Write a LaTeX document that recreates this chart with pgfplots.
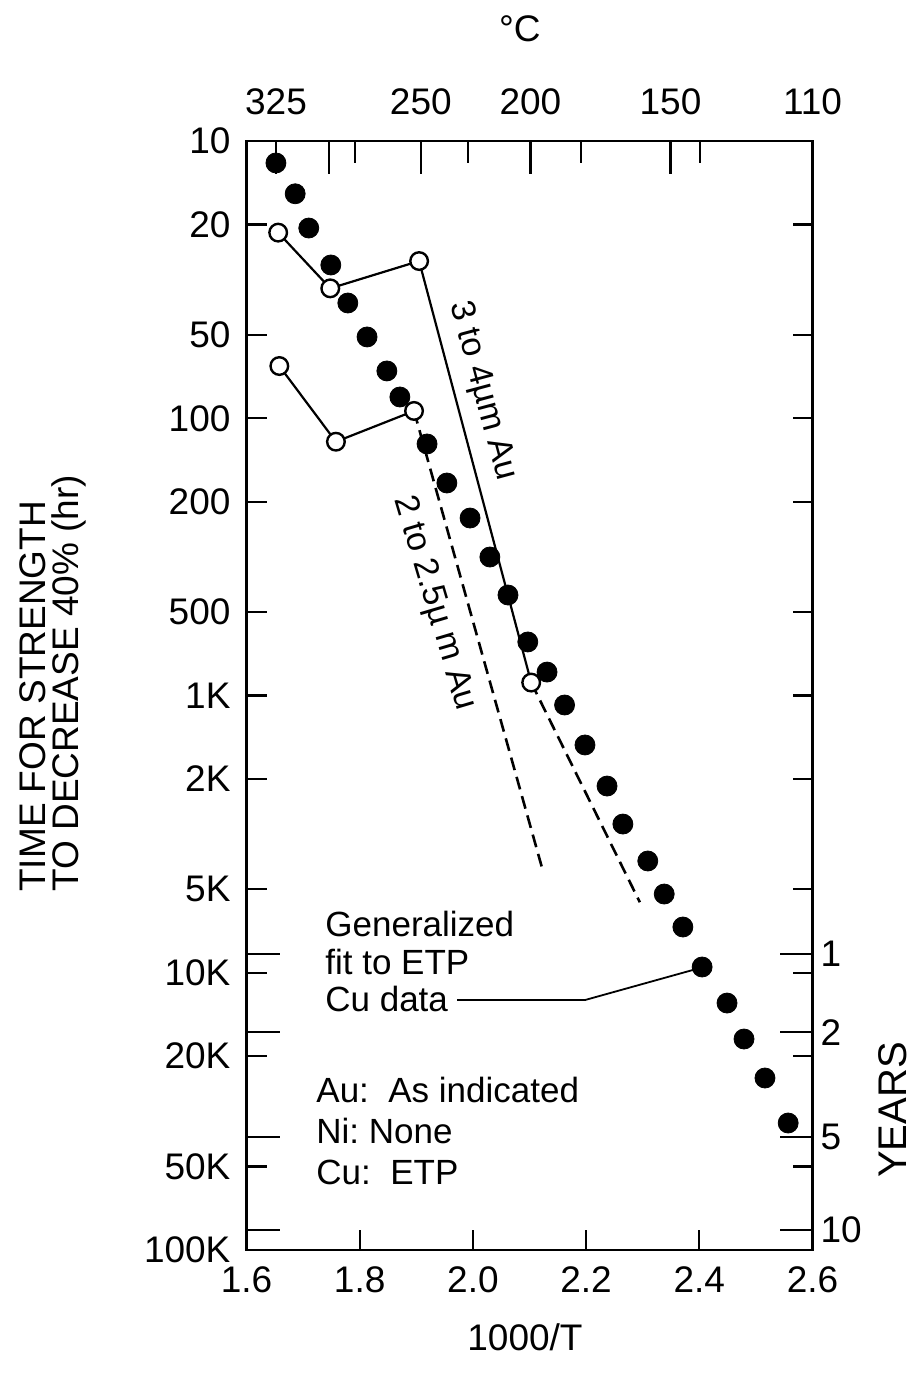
\documentclass[border=0pt]{standalone}
\usepackage{fontspec}
\setmainfont{Liberation Sans}
\usepackage{pgfplots}
\usepackage{pgfplotstable}
\pgfplotsset{compat=1.18}

% Filled circles: generalized fit to ETP Cu data (1000/T, hours)
\pgfplotstableread{
x y
1.652 12.0
1.686 15.5
1.710 20.6
1.749 28.0
1.779 38.4
1.813 50.9
1.848 67.5
1.871 83.8
1.919 123.8
1.954 171.2
1.995 229
2.030 316.6
2.062 434
2.097 641
2.131 823
2.162 1082
2.198 1508
2.237 2121
2.265 2908
2.309 3953
2.338 5200
2.371 6839
2.405 9533
2.449 12860
2.479 17335
2.516 23966
2.557 34830
}\cudata

% Open circles: 3 to 4 um Au
\pgfplotstableread{
x y
1.656 21.4
1.748 34.0
1.905 27.1
2.103 898
}\authick

% Open circles: 2 to 2.5 um Au
\pgfplotstableread{
x y
1.658 64.8
1.758 121.5
1.896 94.1
}\authin

\begin{document}
\begin{tikzpicture}[x=1pt,y=1pt]
\path[use as bounding box] (0,0) rectangle (460,686.5);

% ---------- main axis: 1000/T (bottom) and hours (left) ----------
\begin{axis}[
  scale only axis, width=283pt, height=554.5pt,
  at={(264.75pt,338.75pt)}, anchor=center,
  xmin=1.6, xmax=2.6,
  ymode=log, ymin=10, ymax=100000, y dir=reverse,
  clip=false,
  axis line style={line width=1.3pt},
  tick align=inside,
  major tick length=10pt,
  every tick/.style={black, line width=1.1pt},
  xminorticks=false, yminorticks=false,
  xtick={1.6,1.8,2.0,2.2,2.4,2.6},
  xticklabels={1.6,1.8,2.0,2.2,2.4,2.6},
  xtick pos=lower, xticklabel pos=lower,
  ytick={10,20,50,100,200,500,1000,2000,5000,10000,20000,50000,100000},
  yticklabels={10,20,50,100,200,500,1K,2K,5K,10K,20K,50K,100K},
  ytick pos=both, yticklabel pos=lower,
  /pgf/number format/assume math mode=true,
  tick label style={font=\fontsize{18.5}{20}\selectfont},
  yticklabel style={xshift=-4.5pt},
  xticklabel style={yshift=-5pt},
  xlabel={1000/T},
  xlabel style={at={(axis description cs:0.492,-0.079)}, anchor=center,
    font=\fontsize{18.5}{20}\selectfont},
  ylabel={TIME FOR STRENGTH\\TO DECREASE 40\% (hr)},
  ylabel style={at={(axis description cs:-0.342,0.511)}, anchor=center,
    align=left, font=\fontsize{18.5}{16.5}\selectfont},
]
% leader line for the annotation
\addplot[line width=0.9pt] coordinates {(1.972,12543) (2.198,12543) (2.401,9614)};
% 3 to 4 um Au
\addplot[line width=1.1pt] table {\authick};
\addplot[line width=1.3pt, dash pattern=on 6.5pt off 3.5pt] coordinates {(2.103,898) (2.295,5570)};
% 2 to 2.5 um Au
\addplot[line width=1.1pt] table {\authin};
\addplot[line width=1.3pt, dash pattern=on 6.5pt off 3.5pt] coordinates {(1.896,94.1) (2.1216,4145)};
% filled ETP Cu points
\addplot[only marks, mark=*, mark size=5pt, black] table {\cudata};
% open circles
\addplot[only marks, mark=*, mark size=4.4pt,
  mark options={fill=white, draw=black, line width=1.2pt}] table {\authick};
\addplot[only marks, mark=*, mark size=4.4pt,
  mark options={fill=white, draw=black, line width=1.2pt}] table {\authin};

% annotations
\node[rotate=-75, inner sep=0, font=\fontsize{17}{17}\selectfont]
  at (axis cs:2.017,79.7) {3 to 4µm Au};
\node[rotate=-73.5, inner sep=0, font=\fontsize{17}{17}\selectfont]
  at (axis cs:1.9316,465) {2 to 2.5µ m Au};
\node[anchor=north west, inner sep=0, align=left,
  font=\fontsize{17.5}{18.75}\selectfont]
  at (axis cs:1.7387,5988) {Generalized\\fit to ETP\\Cu data};
\node[anchor=north west, inner sep=0, align=left,
  font=\fontsize{17.5}{20.5}\selectfont]
  at (axis cs:1.7228,23700) {Au:~~As indicated\\Ni:~None\\Cu:~~ETP};
\end{axis}

% ---------- secondary axis: degrees C (top) and years (right) ----------
\begin{axis}[
  scale only axis, width=283pt, height=554.5pt,
  at={(264.75pt,338.75pt)}, anchor=center,
  xmin=1.6, xmax=2.6,
  ymode=log, ymin=10, ymax=100000, y dir=reverse,
  axis line style={line width=1.3pt},
  tick align=inside,
  major tick length=16.5pt, minor tick length=11pt,
  every tick/.style={black, line width=1.1pt},
  yminorticks=false,
  xtick={1.6521,1.7463,1.9080,2.1016,2.3491,2.6},
  xticklabels={325,,250,200,150,110},
  minor xtick={1.7917,1.9919,2.1906,2.4010},
  xtick pos=upper, xticklabel pos=upper,
  ytick={8560,16400,39100,84700},
  yticklabels={1,2,5,10},
  ytick pos=both, yticklabel pos=upper,
  /pgf/number format/assume math mode=true,
  tick label style={font=\fontsize{18.5}{20}\selectfont},
  xticklabel style={yshift=9.3pt},
  yticklabel style={xshift=0.5pt},
  xlabel={°C},
  xlabel style={at={(axis description cs:0.483,1.101)}, anchor=center,
    font=\fontsize{18.5}{20}\selectfont},
  ylabel={YEARS},
  ylabel style={at={(axis description cs:1.1422,0.1262)}, anchor=center,
    font=\fontsize{20}{22}\selectfont},
]
\end{axis}
\end{tikzpicture}
\end{document}
